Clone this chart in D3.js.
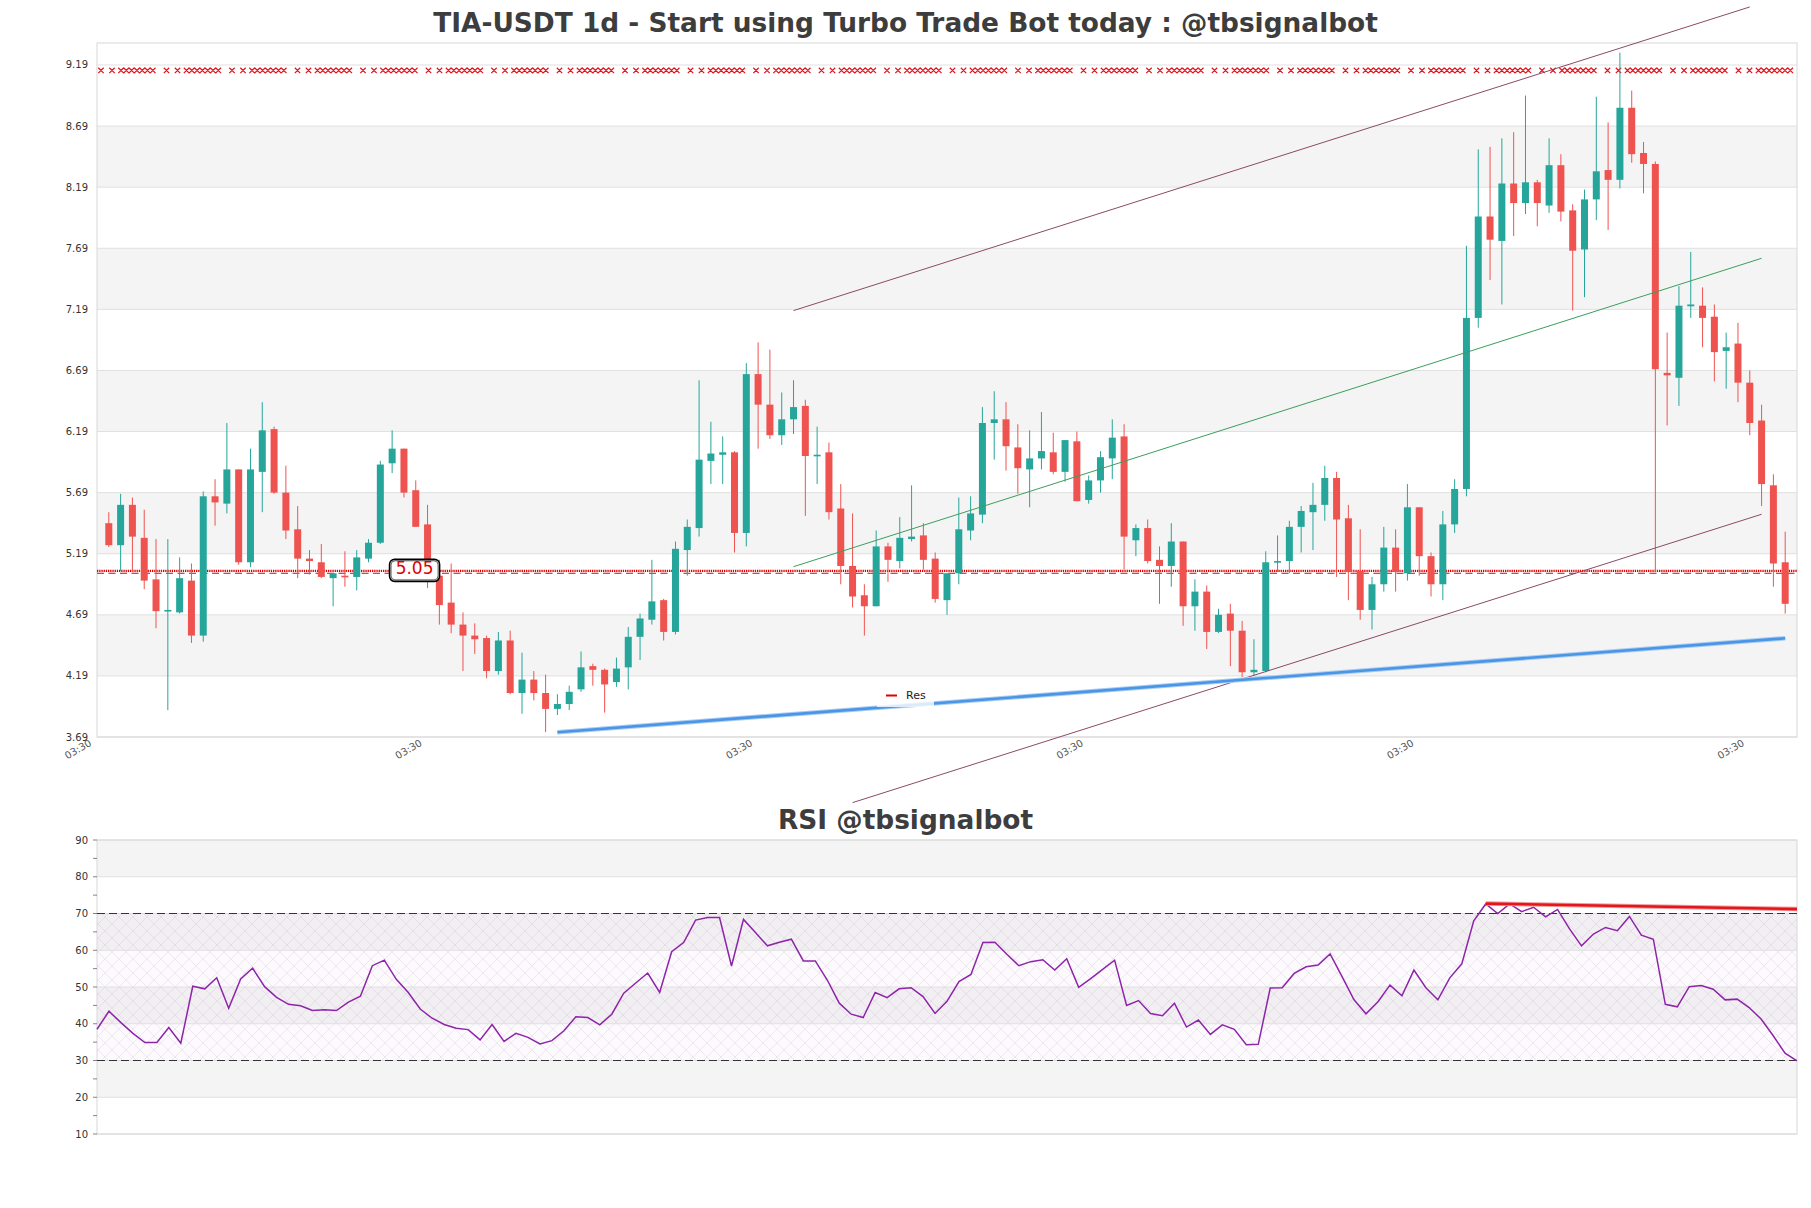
<!DOCTYPE html>
<html>
<head>
<meta charset="utf-8">
<script src="https://cdn.jsdelivr.net/npm/d3@7"></script>
<style>
  body { margin: 0; background: #fff; }
  svg { display: block; font-family: "DejaVu Sans", sans-serif; }
</style>
</head>
<body>
<div id="chart"></div>
<script>
// daily candles
const opens  = [5.44,5.26,5.59,5.32,4.98,4.72,4.71,4.97,4.52,5.66,5.60,5.88,5.12,5.86,6.21,5.69,5.39,5.15,5.12,4.99,
                5.01,5.00,5.15,5.28,5.93,6.05,5.71,5.43,5.01,4.79,4.61,4.52,4.50,4.23,4.48,4.05,4.16,4.05,3.92,3.96,
                4.08,4.27,4.24,4.14,4.26,4.51,4.65,4.81,4.55,5.22,5.40,5.95,6.00,6.02,5.36,6.66,6.41,6.16,6.29,6.40,
                5.99,6.02,5.56,5.09,4.85,4.76,5.25,5.13,5.31,5.34,5.15,4.81,5.03,5.38,5.51,6.26,6.29,6.06,5.88,5.97,
                6.02,5.86,6.11,5.63,5.79,5.97,6.15,5.30,5.40,5.14,5.09,5.29,4.76,4.88,4.55,4.70,4.56,4.22,4.23,5.12,
                5.13,5.41,5.53,5.59,5.81,5.48,5.05,4.73,4.94,5.24,5.03,5.57,5.17,4.94,5.43,5.72,7.12,7.95,7.75,8.22,
                8.06,8.23,8.04,8.37,8.00,7.68,8.09,8.33,8.25,8.84,8.47,8.38,6.67,6.63,7.215,7.22,7.13,6.85,6.91,6.59,
                6.28,5.75,5.12];
const highs  = [5.53,5.68,5.65,5.55,5.31,5.31,5.16,5.11,5.70,5.80,6.26,5.88,6.05,6.43,6.23,5.91,5.58,5.22,5.27,5.03,
                5.21,5.22,5.31,5.95,6.20,6.05,5.79,5.59,5.14,5.11,4.71,4.62,4.52,4.55,4.56,4.38,4.23,4.20,4.04,4.11,
                4.39,4.29,4.25,4.34,4.59,4.70,5.14,4.82,5.29,5.47,6.61,6.27,6.15,6.03,6.75,6.92,6.86,6.51,6.61,6.45,
                6.23,6.10,5.76,5.52,4.94,5.38,5.28,5.49,5.75,5.44,5.20,5.03,5.65,5.66,6.39,6.52,6.43,6.25,6.20,6.35,
                6.18,6.12,6.19,5.83,6.03,6.29,6.25,5.43,5.47,5.25,5.44,5.29,4.98,4.93,4.74,4.78,4.64,4.49,5.21,5.34,
                5.46,5.58,5.77,5.91,5.86,5.59,5.39,5.00,5.41,5.39,5.76,5.57,5.20,5.54,5.80,7.71,8.50,8.52,8.59,8.64,
                8.94,8.25,8.59,8.46,8.05,8.17,8.93,8.72,9.29,8.98,8.56,8.40,7.00,7.38,7.66,7.37,7.23,7.00,7.08,6.69,
                6.41,5.84,5.37];
const lows   = [5.245,5.05,5.04,4.90,4.58,3.91,4.70,4.46,4.47,5.42,5.52,5.10,5.08,5.53,5.68,5.31,4.99,5.02,4.99,4.76,
                4.92,4.89,5.12,5.27,5.85,5.65,5.41,4.91,4.61,4.54,4.23,4.37,4.17,4.20,4.04,3.88,3.99,3.73,3.87,3.91,
                4.06,4.11,3.89,4.10,4.08,4.32,4.61,4.48,4.53,5.01,5.33,5.76,5.76,5.20,5.25,6.05,6.13,6.08,6.17,5.50,
                5.76,5.47,4.94,4.75,4.52,4.76,4.96,5.07,5.29,5.06,4.79,4.69,4.94,5.30,5.44,5.96,5.87,5.68,5.57,5.88,
                5.84,5.78,5.62,5.60,5.69,5.80,5.06,5.17,5.11,4.78,4.92,4.60,4.56,4.41,4.54,4.27,4.18,4.19,4.22,5.04,
                5.03,5.20,5.22,5.46,5.00,4.81,4.65,4.57,4.88,4.88,4.97,5.01,4.84,4.81,5.36,5.66,7.04,7.43,7.23,7.79,
                7.97,7.87,7.98,7.91,7.18,7.29,7.92,7.84,8.18,8.39,8.14,5.04,6.24,6.40,7.12,6.88,6.60,6.54,6.43,6.16,
                5.58,4.92,4.70];
const closes = [5.26,5.59,5.33,4.97,4.72,4.73,4.99,4.52,5.66,5.61,5.88,5.12,5.88,6.20,5.69,5.38,5.15,5.13,5.00,5.03,
                5.00,5.16,5.28,5.92,6.05,5.69,5.41,5.01,4.77,4.61,4.52,4.49,4.23,4.48,4.05,4.16,4.05,3.92,3.96,4.06,
                4.26,4.24,4.12,4.25,4.51,4.66,4.80,4.55,5.23,5.41,5.96,6.01,6.02,5.36,6.66,6.41,6.16,6.29,6.39,5.99,
                6.00,5.53,5.09,4.84,4.76,5.25,5.14,5.32,5.33,5.14,4.82,5.03,5.39,5.52,6.26,6.29,6.07,5.89,5.97,6.03,
                5.86,6.12,5.62,5.79,5.98,6.14,5.33,5.40,5.13,5.09,5.29,4.76,4.88,4.55,4.69,4.56,4.22,4.24,5.12,5.13,
                5.41,5.54,5.59,5.81,5.47,5.04,4.73,4.94,5.24,5.04,5.57,5.17,4.94,5.43,5.72,7.12,7.95,7.76,8.22,8.06,
                8.23,8.06,8.37,7.99,7.67,8.09,8.32,8.25,8.84,8.46,8.38,6.70,6.65,7.22,7.23,7.12,6.84,6.88,6.59,6.26,
                5.76,5.11,4.78];

// RSI, one value per candle
const rsiValues = [38.5,43.4,40.3,37.4,34.9,34.9,39.0,34.7,50.2,49.5,52.5,44.2,52.2,55.1,50.1,47.2,45.3,44.9,43.6,43.8,
                   43.6,45.9,47.5,55.8,57.3,52.1,48.5,44.0,41.5,39.8,38.8,38.4,35.6,39.8,35.2,37.4,36.3,34.5,35.4,38.1,
                   41.9,41.7,39.7,42.6,48.3,51.1,53.8,48.5,59.6,62.1,68.2,68.9,68.9,55.7,68.4,64.8,61.2,62.2,63.0,57.1,
                   57.1,51.9,45.6,42.6,41.7,48.5,47.1,49.5,49.8,47.4,42.8,46.1,51.5,53.4,62.1,62.2,58.9,55.8,56.9,57.4,
                   54.6,57.7,49.9,52.3,54.8,57.3,45.0,46.3,42.8,42.2,45.6,39.1,41.0,37.1,39.7,38.5,34.3,34.4,49.7,49.8,
                   53.7,55.5,56.0,59.0,52.8,46.5,42.7,46.0,50.5,47.6,54.6,49.8,46.5,52.5,56.3,68.0,72.6,70.0,72.6,70.5,
                   71.7,69.1,71.1,65.8,61.2,64.4,66.2,65.3,69.2,64.1,63.0,45.3,44.6,50.1,50.4,49.4,46.5,46.7,44.4,41.3,
                   36.8,32.0,29.9];

const priceTicks = [3.69,4.19,4.69,5.19,5.69,6.19,6.69,7.19,7.69,8.19,8.69,9.19];
const rsiTicks = [10,20,30,40,50,60,70,80,90];
const rsiMinorTicks = [15,25,35,45,55,65,75,85];
const timeTicks = [-1.4, 26.6, 54.6, 82.6, 110.6, 138.6];
const timeLabels = ["03:30","03:30","03:30","03:30","03:30","03:30"];

// levels and drawn lines: [candle index, price]
const resLevel = 5.05;
const resLevel2 = 5.03;
const resTagAt = 25.9;
const topLevel = 9.145;
const channelUpper = [[58, 7.18], [139, 9.665]];
const channelLower = [[63, 3.153], [140, 5.513]];
const channelMid = [[58, 5.084], [140, 7.608]];
const supportLine = [[38, 3.729], [142, 4.498]];
const rsiTrend = [[116, 72.7], [142, 71.2]];

const W = 1811, H = 1208;
const main = {left: 97, right: 1797, top: 43, bottom: 737};
const sub = {left: 97, right: 1797, top: 840, bottom: 1134};

const svg = d3.select("#chart").append("svg")
    .attr("width", W)
    .attr("height", H);

svg.append("rect").attr("width", W).attr("height", H).attr("fill", "#fff");

const defs = svg.append("defs");
const hatch = defs.append("pattern")
    .attr("id", "hatch")
    .attr("patternUnits", "userSpaceOnUse")
    .attr("width", 14).attr("height", 14);
hatch.append("rect").attr("width", 14).attr("height", 14).attr("fill", "rgba(200,120,215,0.04)");
hatch.append("path")
    .attr("d", "M0,0L14,14M14,0L0,14")
    .attr("stroke", "rgba(160,135,175,0.28)")
    .attr("stroke-width", 0.6);

const x = d3.scaleLinear().domain([-1, 143]).range([main.left, main.right]);
const y = d3.scaleLinear().domain([3.69, 9.37]).range([main.bottom, main.top]);
const xR = d3.scaleLinear().domain([0, rsiValues.length - 1]).range([sub.left, sub.right]);
const yR = d3.scaleLinear().domain([10, 90]).range([sub.bottom, sub.top]);

// ---------- price panel ----------
const g = svg.append("g");

// alternating bands
const priceBands = d3.pairs(priceTicks).filter((d, k) => k % 2 === 1);
g.selectAll(".pband").data(priceBands).join("rect")
    .attr("x", main.left).attr("width", main.right - main.left)
    .attr("y", d => y(d[1])).attr("height", d => y(d[0]) - y(d[1]))
    .attr("fill", "#f4f4f4");

g.selectAll(".pgrid").data(priceTicks).join("line")
    .attr("x1", main.left).attr("x2", main.right)
    .attr("y1", d => y(d)).attr("y2", d => y(d))
    .attr("stroke", "#e0e0e0").attr("stroke-width", 1);

g.append("rect")
    .attr("x", main.left).attr("y", main.top)
    .attr("width", main.right - main.left).attr("height", main.bottom - main.top)
    .attr("fill", "none").attr("stroke", "#d8d8d8");

g.selectAll(".plabel").data(priceTicks).join("text")
    .attr("x", 88).attr("y", d => y(d)).attr("dy", "0.35em")
    .attr("text-anchor", "end")
    .attr("font-size", "10px").attr("fill", "#333")
    .text(d => d.toFixed(2));

g.selectAll(".tlabel").data(timeTicks).join("text")
    .attr("transform", d => `translate(${x(d)},745) rotate(-30)`)
    .attr("text-anchor", "end")
    .attr("font-size", "10px").attr("fill", "#555")
    .text((d, k) => timeLabels[k]);

// top level: red line of x markers
const topY = y(topLevel);
const markXs = [];
for (let s = main.left + 4; s < main.right - 3; s += 65.5) {
    [0, 11, 20, 25.3, 30.6, 35.9, 41.2, 46.5, 51.8].forEach(o => {
        if (s + o < main.right - 3) markXs.push(s + o);
    });
}
g.append("path")
    .attr("d", markXs.map(m => `M${m - 2.7},${topY - 2.7}L${m + 2.7},${topY + 2.7}M${m + 2.7},${topY - 2.7}L${m - 2.7},${topY + 2.7}`).join(""))
    .attr("stroke", "#e3121b").attr("stroke-width", 1.2).attr("fill", "none");

// resistance lines
g.append("line")
    .attr("x1", main.left).attr("x2", main.right)
    .attr("y1", y(resLevel)).attr("y2", y(resLevel))
    .attr("stroke", "#e00000").attr("stroke-width", 2.4)
    .attr("stroke-dasharray", "1.3,0.9");
g.append("line")
    .attr("x1", main.left).attr("x2", main.right)
    .attr("y1", y(resLevel2)).attr("y2", y(resLevel2))
    .attr("stroke", "#e00000").attr("stroke-width", 1.2)
    .attr("stroke-dasharray", "7,4.5");

// candles
const candles = opens.map((o, i) => ({i, o, h: highs[i], l: lows[i], c: closes[i]}));
const upColor = "#26a69a", downColor = "#ef5350";
const candleG = g.append("g");
candleG.selectAll(".wick").data(candles).join("line")
    .attr("x1", d => x(d.i)).attr("x2", d => x(d.i))
    .attr("y1", d => y(d.h)).attr("y2", d => y(d.l))
    .attr("stroke", d => d.c >= d.o ? upColor : downColor)
    .attr("stroke-width", 1);
candleG.selectAll(".body").data(candles).join("rect")
    .attr("x", d => x(d.i) - 3.5).attr("width", 7)
    .attr("y", d => y(Math.max(d.o, d.c)))
    .attr("height", d => Math.max(1.6, Math.abs(y(d.o) - y(d.c))))
    .attr("fill", d => d.c >= d.o ? upColor : downColor);

// channel / trend lines
const seg = d3.line().x(d => x(d[0])).y(d => y(d[1]));
g.append("path").attr("d", seg(channelUpper))
    .attr("stroke", "#8b4a68").attr("stroke-width", 1).attr("fill", "none");
g.append("path").attr("d", seg(channelLower))
    .attr("stroke", "#8b4a68").attr("stroke-width", 1).attr("fill", "none");
g.append("path").attr("d", seg(channelMid))
    .attr("stroke", "#3a9e5c").attr("stroke-width", 1).attr("fill", "none");
g.append("path").attr("d", seg(supportLine))
    .attr("stroke", "#a9cdf3").attr("stroke-width", 4.6).attr("fill", "none");
g.append("path").attr("d", seg(supportLine))
    .attr("stroke", "#4b95e6").attr("stroke-width", 2.6).attr("fill", "none");

// legend
g.append("rect")
    .attr("x", 877).attr("y", 683).attr("width", 57).attr("height", 24)
    .attr("fill", "#fff").attr("opacity", 0.8);
g.append("line")
    .attr("x1", 886).attr("x2", 897).attr("y1", 695.5).attr("y2", 695.5)
    .attr("stroke", "#e00000").attr("stroke-width", 2);
g.append("text")
    .attr("x", 906).attr("y", 698.5)
    .attr("font-size", "11px").attr("fill", "#222")
    .text("Res");

// level tag
const tagX = x(resTagAt);
g.append("rect")
    .attr("x", tagX - 25).attr("y", y(resLevel) - 11.5)
    .attr("width", 50).attr("height", 22).attr("rx", 5)
    .attr("fill", "#fff").attr("stroke", "#000").attr("stroke-width", 1.6);
g.append("rect")
    .attr("x", tagX - 23.5).attr("y", y(resLevel) - 10)
    .attr("width", 47).attr("height", 19).attr("rx", 4)
    .attr("fill", "none").attr("stroke", "#000").attr("stroke-width", 0.6);
g.append("text")
    .attr("x", tagX).attr("y", y(resLevel) + 3.5)
    .attr("text-anchor", "middle")
    .attr("font-size", "17px").attr("fill", "#e00000")
    .text(resLevel.toFixed(2));

svg.append("text")
    .attr("x", 905.5).attr("y", 32)
    .attr("text-anchor", "middle")
    .attr("font-size", "26.4px").attr("font-weight", "bold").attr("fill", "#3d3d3d")
    .text("TIA-USDT 1d - Start using Turbo Trade Bot today : @tbsignalbot");

// ---------- RSI panel ----------
const r = svg.append("g");

const rsiBands = d3.pairs(rsiTicks).filter((d, k) => k % 2 === 1);
r.selectAll(".rband").data(rsiBands).join("rect")
    .attr("x", sub.left).attr("width", sub.right - sub.left)
    .attr("y", d => yR(d[1])).attr("height", d => yR(d[0]) - yR(d[1]))
    .attr("fill", "#f4f4f4");

r.append("rect")
    .attr("x", sub.left).attr("width", sub.right - sub.left)
    .attr("y", yR(70)).attr("height", yR(30) - yR(70))
    .attr("fill", "url(#hatch)");

r.selectAll(".rgrid").data(rsiTicks).join("line")
    .attr("x1", sub.left).attr("x2", sub.right)
    .attr("y1", d => yR(d)).attr("y2", d => yR(d))
    .attr("stroke", "#e0e0e0");

r.append("rect")
    .attr("x", sub.left).attr("y", sub.top)
    .attr("width", sub.right - sub.left).attr("height", sub.bottom - sub.top)
    .attr("fill", "none").attr("stroke", "#d8d8d8");

r.selectAll(".rlabel").data(rsiTicks).join("text")
    .attr("x", 88).attr("y", d => yR(d)).attr("dy", "0.35em")
    .attr("text-anchor", "end")
    .attr("font-size", "10px").attr("fill", "#333")
    .text(d => d);
r.selectAll(".rtick").data(rsiTicks.concat(rsiMinorTicks)).join("line")
    .attr("x1", 93).attr("x2", sub.left)
    .attr("y1", d => yR(d)).attr("y2", d => yR(d))
    .attr("stroke", "#666").attr("stroke-width", 0.8);

[30, 70].forEach(v => {
    r.append("line")
        .attr("x1", sub.left).attr("x2", sub.right)
        .attr("y1", yR(v)).attr("y2", yR(v))
        .attr("stroke", "#333").attr("stroke-width", 1.2)
        .attr("stroke-dasharray", "8,4");
});

const rsiLine = d3.line().x((d, i) => xR(i)).y(d => yR(d));
r.append("path").datum(rsiValues)
    .attr("d", rsiLine)
    .attr("fill", "none").attr("stroke", "#8e24aa").attr("stroke-width", 1.5);

const rsiSeg = d3.line().x(d => xR(d[0])).y(d => yR(d[1]));
r.append("path").attr("d", rsiSeg(rsiTrend))
    .attr("stroke", "#f29a9a").attr("stroke-width", 4.5).attr("fill", "none");
r.append("path").attr("d", rsiSeg(rsiTrend))
    .attr("stroke", "#e3161c").attr("stroke-width", 2.6).attr("fill", "none");

svg.append("text")
    .attr("x", 905.5).attr("y", 829)
    .attr("text-anchor", "middle")
    .attr("font-size", "26.4px").attr("font-weight", "bold").attr("fill", "#3d3d3d")
    .text("RSI @tbsignalbot");
</script>
</body>
</html>
